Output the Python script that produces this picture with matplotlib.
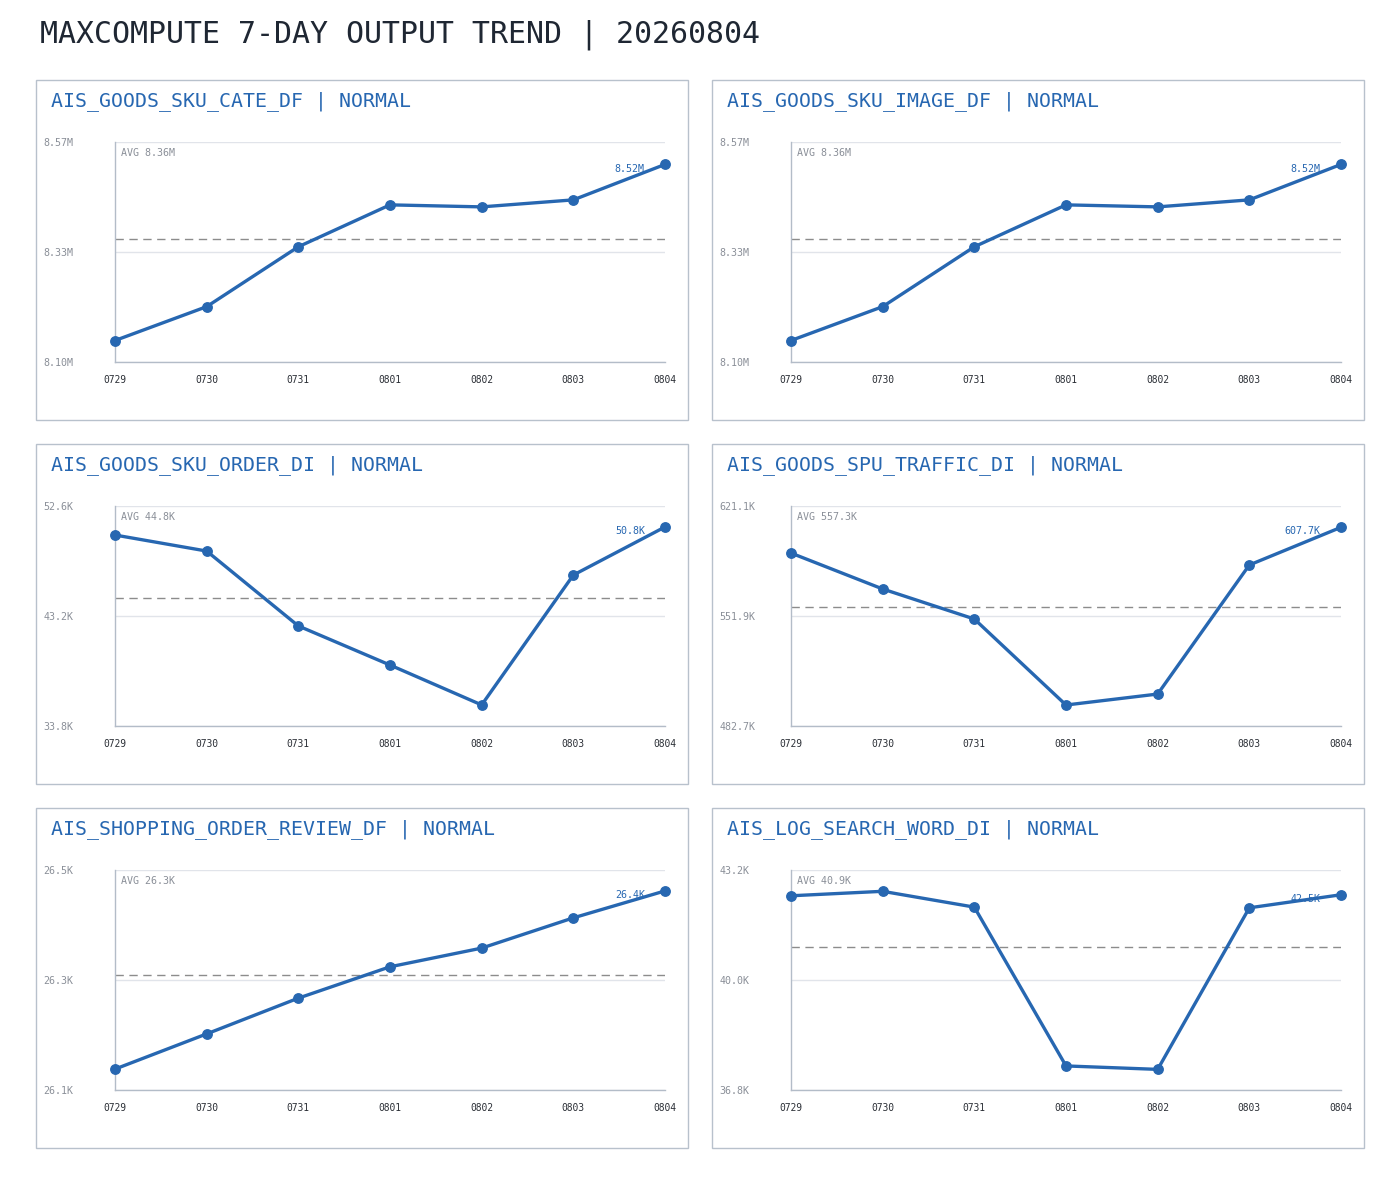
import numpy as np
import matplotlib
matplotlib.use("Agg")
import matplotlib.pyplot as plt
from matplotlib.patches import Rectangle

W, H = 1400, 1178
MONO = "DejaVu Sans Mono"

days = ["0729", "0730", "0731", "0801", "0802", "0803", "0804"]
title = "MAXCOMPUTE 7-DAY OUTPUT TREND | 20260804"

names = ["AIS_GOODS_SKU_CATE_DF", "AIS_GOODS_SKU_IMAGE_DF", "AIS_GOODS_SKU_ORDER_DI",
         "AIS_GOODS_SPU_TRAFFIC_DI", "AIS_SHOPPING_ORDER_REVIEW_DF", "AIS_LOG_SEARCH_WORD_DI"]
status = ["NORMAL"] * 6
units = ["M", "M", "K", "K", "K", "K"]

# values in units (M or K)
cate_df = [8.145, 8.2175, 8.3457, 8.4354, 8.4311, 8.4461, 8.522]
image_df = [8.145, 8.2175, 8.3457, 8.4354, 8.4311, 8.4461, 8.522]
order_di = [50.12, 48.75, 42.35, 39.01, 35.60, 46.70, 50.81]
traffic_di = [591.5, 568.9, 550.0, 495.9, 502.8, 584.0, 607.7]
review_df = [26.098, 26.162, 26.227, 26.284, 26.318, 26.373, 26.422]
search_di = [42.45, 42.58, 42.12, 37.50, 37.40, 42.10, 42.48]
series = [cate_df, image_df, order_di, traffic_di, review_df, search_di]

# axis bounds
y_lo = [8.099, 8.099, 33.8, 482.7, 26.06, 36.8]
y_hi = [8.57, 8.57, 52.6, 621.1, 26.46, 43.2]

BLUE = "#2767b1"
GRAY = "#8a8f98"
SPINE = "#b3bcc8"
GRID = "#e1e4ea"

def fmt(v, u):
    if u == "M":
        return f"{v:.2f}M"
    return f"{v:.1f}K"

fig = plt.figure(figsize=(W / 100, H / 100), dpi=100)
fig.text(40 / W, 1 - 35 / H, title, fontsize=21.5, family=MONO, color="#1f2733",
         ha="left", va="center")

panel_x = [36, 712]
panel_y = [80, 444, 808]
pw, ph = 652, 340

for i, vals in enumerate(series):
    px = panel_x[i % 2]
    py = panel_y[i // 2]
    fig.patches.append(Rectangle((px / W, 1 - (py + ph) / H), pw / W, ph / H,
                                 transform=fig.transFigure, fill=False,
                                 edgecolor="#b8c1cc", linewidth=1))
    fig.text((px + 15) / W, 1 - (py + 21) / H, f"{names[i]} | {status[i]}",
             fontsize=14.3, family=MONO, color=BLUE, ha="left", va="center")

    l, r = px + 79, px + pw - 23
    t, b = py + 62, py + 282
    ax = fig.add_axes([l / W, 1 - b / H, (r - l) / W, (b - t) / H])
    x = np.arange(len(days))
    u = units[i]
    lo, hi = y_lo[i], y_hi[i]
    avg = np.mean(vals)

    ax.plot(x, vals, color=BLUE, lw=2.4, marker="o", ms=6.8, clip_on=False, zorder=3)
    ax.axhline(avg, color="#8c8c8c", lw=1, ls=(0, (6, 4)), zorder=2)
    ax.set_xlim(0, len(days) - 1)
    ax.set_ylim(lo, hi)

    mid = (lo + hi) / 2
    ax.set_yticks([lo, mid, hi])
    ax.set_yticklabels([fmt(lo, u), fmt(mid, u), fmt(hi, u)], family=MONO)
    for tl in ax.get_yticklabels():
        tl.set_ha("left")
    ax.tick_params(axis="y", length=0, pad=51.5, labelsize=7.2, labelcolor=GRAY)
    ax.set_xticks(x)
    ax.set_xticklabels(days, family=MONO)
    ax.tick_params(axis="x", length=0, pad=9.5, labelsize=6.9, labelcolor="#2b2f36")
    ax.grid(axis="y", color=GRID, lw=1)
    ax.set_axisbelow(True)

    for s in ["top", "right"]:
        ax.spines[s].set_visible(False)
    for s in ["left", "bottom"]:
        ax.spines[s].set_color(SPINE)
        ax.spines[s].set_linewidth(1)

    ax.annotate(f"AVG {fmt(avg, u)}", xy=(0, 1), xycoords="axes fraction",
                xytext=(4.3, -8), textcoords="offset points", ha="left", va="center",
                fontsize=7.2, family=MONO, color=GRAY)
    ax.annotate(fmt(vals[-1], u), xy=(x[-1], vals[-1]), xytext=(-14.5, -3),
                textcoords="offset points", ha="right", va="center",
                fontsize=7.2, family=MONO, color=BLUE)

fig.savefig("out.png", dpi=100)
